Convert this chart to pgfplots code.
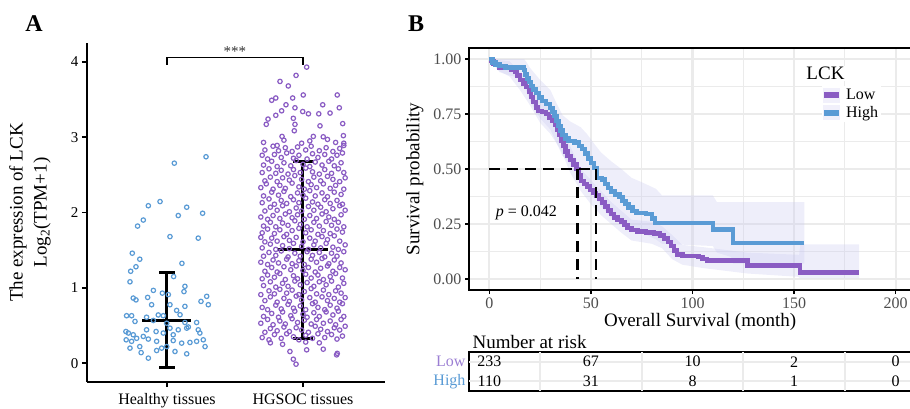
\documentclass[border=0pt]{standalone}
\usepackage{fontspec}
\setmainfont{Liberation Serif}
\usepackage{pgfplots}
\pgfplotsset{compat=1.18}
\pgfkeys{/pgf/number format/assume math mode=true}
\definecolor{cblue}{HTML}{5A9BD5}
\definecolor{cpurple}{HTML}{8A5CC3}
\definecolor{lowlab}{HTML}{9B7ED3}
\definecolor{gridc}{HTML}{EBEBEB}
\definecolor{tickc}{HTML}{4D4D4D}
\definecolor{bandc}{HTML}{C8C8F0}
\definecolor{keybg}{HTML}{F1F0FB}
\newcommand\fs[2]{\fontsize{#1}{#2}\selectfont}

\begin{document}
\begin{tikzpicture}

% ---------------- panel A: expression ----------------
\begin{axis}[at={(87pt,26pt)}, anchor=south west, scale only axis,
  width=298pt, height=339pt,
  xmin=0.412, xmax=2.603, ymin=-0.25, ymax=4.25,
  axis x line=bottom, axis y line=left,
  axis line style={-, line width=1.8pt},
  xtick={1,2}, xticklabels={Healthy tissues, HGSOC tissues},
  ytick={0,1,2,3,4},
  tick align=outside, major tick length=5pt,
  tick style={line width=1.6pt, black},
  yticklabel style={font=\fs{15}{18}},
  xticklabel style={font=\fs{16}{19}, yshift=-3pt},
  ylabel={The expression of LCK\\Log\textsubscript{2}(TPM+1)},
  ylabel style={align=center, font=\fs{19}{24}, at={(axis description cs:-0.191,0.5)}, anchor=center},
  clip=false]
% healthy tissues
\addplot[only marks, mark=o, mark size=2.2pt, mark options={draw=cblue, line width=1.2pt}] coordinates {
(1.287,2.74)(1.054,2.655)(0.949,2.145)(0.863,2.09)(1.145,2.07)(1.083,1.96)(1.262,1.99)
(0.826,1.90)(0.784,1.82)(1.022,1.68)(1.23,1.66)(0.745,1.46)(0.80,1.38)(1.11,1.325)
(0.772,1.28)(0.733,1.22)(1.049,1.15)(0.728,1.08)(1.132,1.02)(1.125,0.95)(0.90,0.966)
(0.966,0.93)(1.01,0.91)(0.752,0.864)(0.772,0.84)(0.858,0.873)(0.887,0.776)(1.292,0.887)
(1.25,0.82)(1.304,0.776)(1.022,0.776)(1.132,0.754)(1.071,0.70)(0.703,0.63)(0.74,0.63)
(0.765,0.554)(0.85,0.61)(0.90,0.567)(0.973,0.63)(1.096,0.643)(1.132,0.54)(1.157,0.48)
(1.218,0.54)(0.698,0.42)(0.716,0.40)(0.752,0.377)(0.70,0.31)(0.74,0.29)(0.777,0.33)
(0.826,0.355)(0.863,0.32)(0.924,0.29)(0.973,0.40)(1.046,0.377)(1.083,0.443)(1.145,0.465)
(1.23,0.443)(1.242,0.40)(1.218,0.29)(1.267,0.31)(1.28,0.22)(1.169,0.275)(1.108,0.266)
(1.046,0.30)(0.998,0.22)(0.961,0.20)(0.924,0.168)(1.059,0.155)(0.80,0.22)(0.81,0.14)
(0.863,0.067)(0.728,0.20)(1.145,0.124)(1.022,0.465)(0.998,0.53)(0.936,0.64)(0.85,0.443)(0.92,0.42)
};
% HGSOC tissues
\addplot[only marks, mark=o, mark size=2.2pt, mark options={draw=cpurple, line width=1.2pt}] coordinates {
(2.027,3.93)(1.949,3.82)(1.831,3.74)(1.892,3.68)(2.252,3.56)(2.002,3.56)(1.80,3.52)(1.924,3.52)
(1.77,3.49)(1.875,3.43)(2.145,3.43)(2.267,3.39)(1.941,3.39)(1.843,3.35)(1.998,3.34)(2.04,3.31)
(2.116,3.31)(2.199,3.32)(1.80,3.29)(1.743,3.24)(1.929,3.25)(1.73,3.17)(1.941,3.17)(2.292,3.18)
(2.125,3.15)(1.936,3.085)(2.076,3.01)(2.149,3.005)(2.297,3.02)(1.846,3.01)(1.71,2.93)(1.99,2.92)
(2.24,2.93)(2.30,2.92)(1.81,2.89)(1.86,2.96)(2.05,2.95)(2.18,2.97)
(1.904,0.155)(1.929,0.053)(1.949,-0.013)(2.027,0.177)(2.149,0.186)(2.247,0.11)(2.252,0.13)
(1.76,0.27)(1.85,0.25)(2.12,0.27)(2.02,0.28)
(1.70,0.34)(1.75,0.31)(1.79,0.38)(1.84,0.33)(1.88,0.39)(1.93,0.35)(1.97,0.31)(2.02,0.37)(2.07,0.33)(2.11,0.39)(2.16,0.34)(2.21,0.38)(2.25,0.32)(2.29,0.36)
(1.72,0.41)(1.76,0.46)(1.81,0.43)(1.86,0.48)(1.90,0.42)(1.95,0.47)(1.99,0.44)(2.04,0.41)(2.09,0.49)(2.13,0.45)(2.18,0.42)(2.23,0.47)(2.27,0.44)(2.31,0.49)
(1.69,0.53)(1.74,0.58)(1.78,0.51)(1.83,0.56)(1.87,0.52)(1.92,0.59)(1.96,0.54)(2.01,0.57)(2.06,0.52)(2.10,0.58)(2.15,0.53)(2.20,0.56)(2.24,0.51)(2.28,0.58)
(1.71,0.62)(1.77,0.66)(1.82,0.61)(1.85,0.68)(1.91,0.63)(1.94,0.69)(2.00,0.65)(2.03,0.61)(2.08,0.67)(2.12,0.62)(2.17,0.68)(2.22,0.64)(2.26,0.69)(2.30,0.62)
(1.70,0.74)(1.74,0.71)(1.80,0.77)(1.84,0.72)(1.89,0.78)(1.93,0.73)(1.98,0.76)(2.02,0.71)(2.07,0.79)(2.11,0.74)(2.16,0.71)(2.20,0.77)(2.25,0.73)(2.29,0.79)
(1.72,0.83)(1.76,0.88)(1.81,0.81)(1.86,0.86)(1.90,0.82)(1.95,0.89)(1.99,0.84)(2.05,0.87)(2.09,0.81)(2.14,0.88)(2.18,0.83)(2.23,0.86)(2.27,0.81)(2.31,0.87)
(1.69,0.91)(1.75,0.96)(1.79,0.92)(1.83,0.98)(1.88,0.93)(1.92,0.97)(1.97,0.91)(2.01,0.95)(2.06,0.99)(2.10,0.92)(2.15,0.97)(2.19,0.91)(2.24,0.96)(2.28,0.93)
(1.71,1.03)(1.76,1.08)(1.80,1.01)(1.85,1.06)(1.89,1.02)(1.94,1.09)(1.98,1.04)(2.03,1.07)(2.08,1.02)(2.12,1.08)(2.17,1.04)(2.21,1.09)(2.26,1.01)(2.30,1.06)
(1.70,1.12)(1.74,1.17)(1.79,1.14)(1.83,1.19)(1.87,1.11)(1.93,1.16)(1.96,1.12)(2.02,1.18)(2.06,1.13)(2.11,1.17)(2.15,1.11)(2.20,1.15)(2.24,1.19)(2.29,1.13)
(1.72,1.22)(1.77,1.27)(1.81,1.21)(1.86,1.28)(1.91,1.24)(1.95,1.29)(2.00,1.23)(2.04,1.27)(2.09,1.21)(2.13,1.26)(2.18,1.29)(2.22,1.22)(2.27,1.27)(2.31,1.24)
(1.69,1.34)(1.74,1.31)(1.78,1.37)(1.82,1.33)(1.88,1.38)(1.92,1.32)(1.97,1.36)(2.01,1.31)(2.06,1.38)(2.10,1.34)(2.14,1.39)(2.19,1.32)(2.23,1.37)(2.28,1.33)
(1.71,1.42)(1.75,1.47)(1.80,1.43)(1.84,1.49)(1.89,1.41)(1.94,1.46)(1.98,1.42)(2.03,1.48)(2.07,1.43)(2.12,1.47)(2.16,1.41)(2.21,1.46)(2.25,1.42)(2.30,1.48)
(1.70,1.53)(1.76,1.58)(1.80,1.51)(1.85,1.56)(1.90,1.52)(1.93,1.59)(1.99,1.55)(2.04,1.51)(2.08,1.57)(2.13,1.53)(2.17,1.59)(2.22,1.54)(2.26,1.51)(2.31,1.57)
(1.72,1.61)(1.77,1.66)(1.81,1.62)(1.86,1.68)(1.90,1.63)(1.95,1.67)(2.00,1.61)(2.05,1.66)(2.09,1.62)(2.14,1.68)(2.18,1.64)(2.23,1.69)(2.27,1.62)(1.69,1.67)
(1.70,1.73)(1.74,1.78)(1.79,1.72)(1.83,1.77)(1.88,1.71)(1.92,1.76)(1.97,1.79)(2.02,1.73)(2.06,1.77)(2.11,1.71)(2.15,1.76)(2.20,1.72)(2.25,1.78)(2.29,1.74)
(1.71,1.82)(1.76,1.87)(1.80,1.81)(1.85,1.86)(1.89,1.83)(1.94,1.89)(1.98,1.84)(2.03,1.81)(2.08,1.87)(2.12,1.82)(2.17,1.88)(2.21,1.83)(2.26,1.87)(2.30,1.81)
(1.69,1.94)(1.74,1.91)(1.78,1.96)(1.83,1.92)(1.87,1.98)(1.92,1.93)(1.96,1.97)(2.01,1.91)(2.05,1.96)(2.10,1.92)(2.14,1.98)(2.19,1.94)(2.23,1.91)(2.28,1.97)
(1.72,2.02)(1.76,2.07)(1.81,2.03)(1.85,2.09)(1.90,2.01)(1.95,2.06)(1.99,2.02)(2.04,2.08)(2.08,2.03)(2.13,2.07)(2.17,2.01)(2.22,2.05)(2.27,2.09)(2.31,2.03)
(1.70,2.13)(1.75,2.18)(1.79,2.11)(1.84,2.16)(1.88,2.12)(1.93,2.17)(1.97,2.13)(2.02,2.19)(2.07,2.14)(2.11,2.11)(2.16,2.17)(2.20,2.12)(2.25,2.16)(2.29,2.11)
(1.71,2.22)(1.77,2.27)(1.82,2.23)(1.86,2.28)(1.91,2.21)(1.96,2.26)(2.00,2.23)(2.05,2.29)(2.09,2.22)(2.14,2.26)(2.18,2.21)(2.23,2.27)(2.28,2.24)
(1.69,2.33)(1.73,2.38)(1.78,2.31)(1.83,2.36)(1.87,2.32)(1.92,2.39)(1.97,2.34)(2.01,2.31)(2.06,2.37)(2.10,2.33)(2.15,2.38)(2.20,2.32)(2.24,2.36)(2.30,2.31)
(1.72,2.42)(1.76,2.47)(1.81,2.41)(1.85,2.46)(1.90,2.43)(1.94,2.49)(1.99,2.44)(2.04,2.41)(2.08,2.47)(2.13,2.42)(2.18,2.48)(2.22,2.44)(2.27,2.41)(2.31,2.46)
(1.70,2.53)(1.75,2.58)(1.80,2.52)(1.84,2.56)(1.89,2.51)(1.93,2.57)(1.98,2.53)(2.02,2.59)(2.07,2.54)(2.12,2.51)(2.16,2.57)(2.21,2.52)(2.26,2.58)(2.30,2.53)
(1.71,2.63)(1.77,2.68)(1.81,2.61)(1.86,2.66)(1.91,2.62)(1.95,2.69)(2.00,2.64)(2.05,2.61)(2.09,2.67)(2.14,2.63)(2.19,2.68)(2.23,2.62)(2.28,2.66)
(1.70,2.76)(1.74,2.71)(1.79,2.77)(1.84,2.73)(1.88,2.79)(1.93,2.72)(1.97,2.76)(2.03,2.71)(2.07,2.78)(2.11,2.73)(2.16,2.77)(2.21,2.71)(2.25,2.76)(2.29,2.79)
(1.72,2.83)(1.78,2.88)(1.82,2.82)(1.87,2.86)(1.92,2.81)(1.96,2.87)(2.02,2.83)(2.06,2.88)(2.12,2.82)(2.17,2.86)(2.22,2.81)(2.27,2.85)(2.30,2.89)
};
% mean +/- sd bars
\addplot[black, line width=3pt, unbounded coords=jump] coordinates {
(1,-0.053)(1,1.197) (nan,nan) (0.942,1.197)(1.058,1.197) (nan,nan) (0.942,-0.053)(1.058,-0.053) (nan,nan) (0.82,0.567)(1.18,0.567)
(nan,nan) (2,0.332)(2,2.68) (nan,nan) (1.925,2.68)(2.075,2.68) (nan,nan) (1.925,0.332)(2.075,0.332) (nan,nan) (1.816,1.507)(2.184,1.507)
};
% significance bracket
\addplot[black, line width=1.3pt] coordinates {(1,3.96)(1,4.06)(2,4.06)(2,3.96)};
\node[anchor=south, font=\fs{15}{17}, text=black!80, inner sep=1pt] at (axis cs:1.5,4.05) {***};
\end{axis}

% ---------------- panel B: survival ----------------
\begin{axis}[at={(469pt,118pt)}, anchor=south west, scale only axis,
  width=447pt, height=242pt,
  xmin=-10, xmax=210, ymin=-0.05, ymax=1.05,
  xtick={0,50,100,150,200}, ytick={0,0.25,0.5,0.75,1},
  minor xtick={25,75,125,175}, minor ytick={0.125,0.375,0.625,0.875},
  grid=both, major grid style={draw=gridc, line width=2.2pt}, minor grid style={draw=gridc, line width=1.1pt},
  axis line style={line width=1.5pt},
  tick pos=left, tick align=outside, major tick length=4pt, minor tick length=0pt,
  tick style={black, line width=1.3pt},
  ticklabel style={font=\fs{16}{19}, text=tickc},
  yticklabel style={/pgf/number format/.cd, fixed, fixed zerofill, precision=2},
  xlabel={Overall Survival (month)}, ylabel={Survival probability},
  label style={font=\fs{19}{22}},
  xlabel style={at={(axis description cs:0.517,-0.132)}, anchor=center},
  ylabel style={at={(axis description cs:-0.121,0.459)}, anchor=center},
  legend style={at={(axis cs:163.5,0.878)}, anchor=north west, draw=none, fill=white,
    font=\fs{16}{19}, inner sep=1pt, row sep=1pt,
    /tikz/every odd column/.append style={column sep=5pt}},
  legend cell align=left]
% confidence bands
\addplot[draw=none, fill=bandc, fill opacity=0.3, forget plot] coordinates {
(0,1)(17,1)(18,0.99)(20,0.96)(25,0.905)(30,0.86)(33,0.80)(36,0.745)(40,0.715)(45,0.69)(48,0.66)(52,0.61)(55,0.575)(60,0.535)(65,0.50)(70,0.46)(75,0.44)(82,0.41)(85,0.38)(110,0.38)(112,0.35)(155,0.35)
(155,0.07)(120,0.07)(119,0.10)(112,0.12)(110,0.15)(85,0.16)(82,0.18)(75,0.21)(70,0.22)(65,0.25)(60,0.28)(55,0.33)(52,0.38)(48,0.43)(45,0.47)(40,0.52)(36,0.56)(33,0.62)(30,0.68)(25,0.73)(20,0.81)(18,0.86)(17,0.91)(10,0.925)(5,0.94)(0,1)
} -- cycle;
\addplot[draw=none, fill=bandc, fill opacity=0.3, forget plot] coordinates {
(0,1)(10,0.99)(15,0.94)(20,0.90)(25,0.82)(30,0.78)(35,0.70)(40,0.60)(45,0.50)(50,0.45)(55,0.40)(60,0.35)(65,0.31)(70,0.27)(80,0.26)(85,0.24)(90,0.20)(95,0.155)(105,0.145)(127,0.12)(152.5,0.11)(153,0.157)(182,0.157)
(182,0.003)(153,0.003)(152,0.01)(127,0.025)(105,0.05)(95,0.065)(90,0.09)(85,0.14)(80,0.16)(70,0.175)(65,0.21)(60,0.25)(55,0.29)(50,0.34)(45,0.40)(40,0.48)(35,0.59)(30,0.66)(25,0.71)(20,0.79)(15,0.86)(10,0.92)(5,0.945)(0,1)
} -- cycle;
% Low
\addplot[cpurple, line width=4.4pt, const plot, forget plot] coordinates {
(0,1.000)(1,0.990)(2,0.980)(3,0.972)(5,0.962)(8,0.958)(11,0.950)(12.5,0.940)(13.5,0.925)(15,0.905)
(16.5,0.888)(18,0.872)(19.5,0.850)(20.5,0.828)(21.5,0.805)(23,0.780)(24,0.765)(26,0.758)(28,0.750)
(29.5,0.735)(31,0.718)(32.5,0.700)(33.5,0.680)(34.5,0.655)(35.5,0.630)(36.5,0.605)(37.5,0.580)
(38.5,0.560)(40,0.540)(41.5,0.520)(43,0.500)(44,0.470)(45,0.445)(46.5,0.432)(48,0.420)(49.5,0.405)
(51,0.392)(52.5,0.380)(54,0.365)(55.5,0.348)(57,0.330)(58.5,0.312)(60,0.295)(61.5,0.280)(63,0.268)
(65,0.258)(66.5,0.245)(68,0.232)(70,0.222)(73,0.216)(77,0.212)(81,0.207)(84,0.198)(86,0.185)
(88,0.168)(89.5,0.150)(91,0.130)(92.5,0.112)(95,0.105)(103,0.100)(105,0.090)(107,0.085)(127,0.062)
(153,0.030)(182,0.030)
};
% High
\addplot[cblue, line width=4.4pt, const plot, forget plot] coordinates {
(0,1.000)(1.5,0.985)(3,0.975)(5,0.968)(8,0.962)(17,0.950)(17.5,0.930)(18.5,0.912)(19.5,0.895)
(20.5,0.878)(21.5,0.862)(23,0.845)(24.5,0.825)(26,0.808)(28,0.795)(30,0.778)(31,0.760)(32,0.740)
(33,0.718)(34,0.695)(35,0.675)(36,0.655)(37.5,0.638)(39,0.628)(42,0.620)(44,0.605)(45.5,0.590)
(47,0.570)(48.5,0.548)(50,0.528)(51.5,0.505)(53,0.460)(55.5,0.452)(57,0.432)(58.5,0.415)(60,0.398)
(62,0.385)(64,0.372)(65.5,0.355)(67,0.340)(68.5,0.325)(70.5,0.310)(72.5,0.300)(77,0.295)(80,0.275)
(81.5,0.255)(110,0.225)(120,0.165)(155,0.165)
};
% median lines
\addplot[black, line width=2.7pt, dash pattern=on 11pt off 7pt, unbounded coords=jump, forget plot] coordinates {
(0,0.5)(52.5,0.5) (nan,nan) (43.5,0.5)(43.5,0) (nan,nan) (52.5,0.5)(52.5,0)
};
\node[anchor=west, font=\fs{16}{19}] at (axis cs:1.5,0.30) {\textit{p} = 0.042};
% legend
\node[anchor=west, font=\fs{19}{22}, fill=white, inner sep=1pt] at (axis cs:155.5,0.934) {LCK};
\addlegendimage{legend image code/.code={\fill[keybg] (-1pt,-7pt) rectangle (15pt,7pt); \fill[cpurple] (0pt,-2.5pt) rectangle (14pt,2.5pt);}}
\addlegendentry{Low}
\addlegendimage{legend image code/.code={\fill[keybg] (-1pt,-7pt) rectangle (15pt,7pt); \fill[cblue] (0pt,-2.5pt) rectangle (14pt,2.5pt);}}
\addlegendentry{High}
\end{axis}

% ---------------- risk table ----------------
\begin{axis}[at={(469pt,17pt)}, anchor=south west, scale only axis,
  width=447pt, height=39pt,
  xmin=-10, xmax=210, ymin=0.5, ymax=2.5,
  xtick=\empty, ytick={1,2},
  yticklabels={\textcolor{cblue}{High},\textcolor{lowlab}{Low}},
  tick style={draw=none}, major tick length=0pt, axis line style={line width=1.5pt},
  yticklabel style={font=\fs{16}{19}},
  unbounded coords=jump]
% table rules
\addplot[gridc, line width=2pt] coordinates {
(25,0.5)(25,2.5) (nan,nan) (75,0.5)(75,2.5) (nan,nan) (125,0.5)(125,2.5) (nan,nan) (175,0.5)(175,2.5)
(nan,nan) (-10,1)(210,1) (nan,nan) (-10,2)(210,2)
};
\addplot[draw=none, mark=none, nodes near coords={\pgfplotspointmeta}, point meta=explicit symbolic,
  every node near coord/.append style={anchor=center, font=\fs{16}{19}, text=black}] coordinates {
(0,2)[233] (50,2)[67] (100,2)[10] (150,2)[2] (200,2)[0]
(0,1)[110] (50,1)[31] (100,1)[8] (150,1)[1] (200,1)[0]
};
\end{axis}

\node[anchor=west, font=\fs{19}{22}] at (469pt,66pt) {Number at risk};
\node[font=\fs{24}{28}\bfseries] at (34pt,384pt) {A};
\node[font=\fs{24}{28}\bfseries] at (416pt,384pt) {B};

\pgfresetboundingbox
\path[use as bounding box] (0pt,0pt) rectangle (910pt,408pt);
\end{tikzpicture}
\end{document}
